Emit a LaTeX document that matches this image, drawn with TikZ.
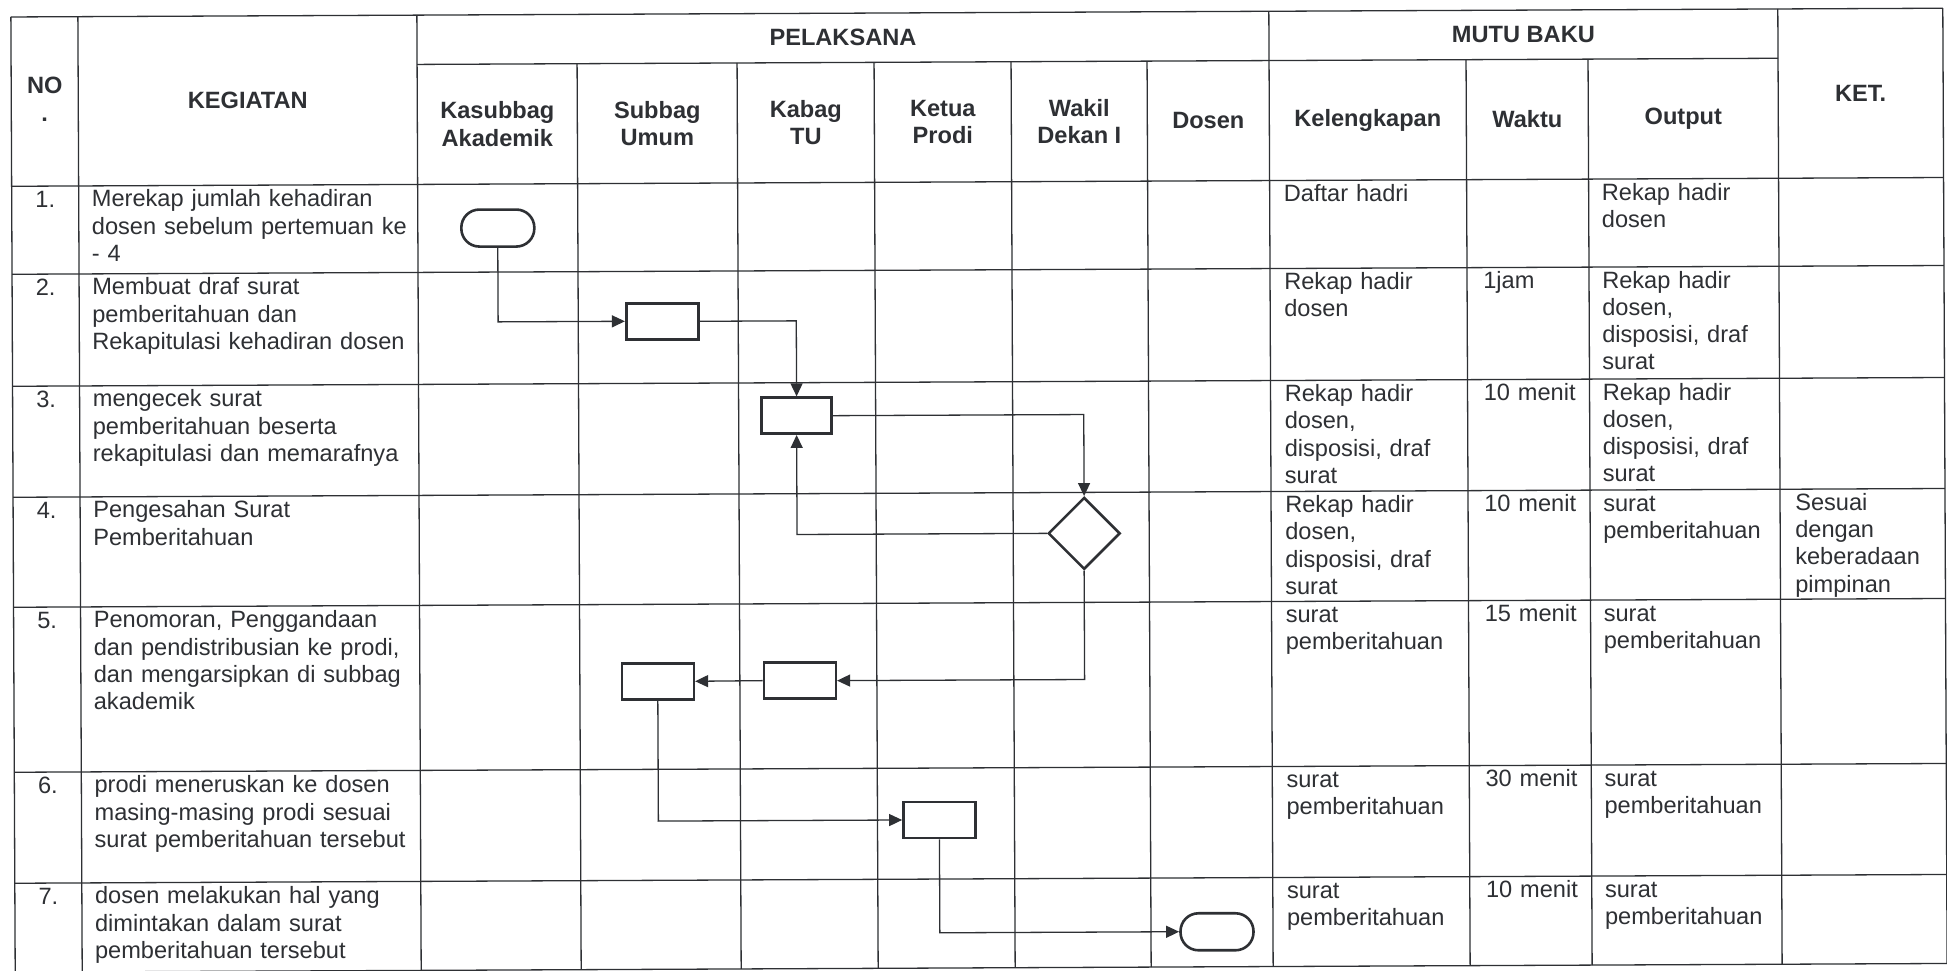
\documentclass[tikz,border=0pt]{standalone}
\usepackage{fontspec}
\setmainfont{Liberation Sans}
\usetikzlibrary{arrows.meta,shapes.geometric}

\definecolor{tinta}{HTML}{2E3034}

\tikzset{
  garis/.style={draw=tinta, line width=1.3pt},
  huruf/.style={font=\fontsize{23.6}{27.3}\selectfont, text=tinta, inner sep=0pt},
  judul/.style={huruf, font=\fontsize{23.6}{27.3}\selectfont\bfseries, align=center},
  isi/.style={huruf, anchor=base west, text width=#1, align=left},
  isi/.default=330pt,
  angka/.style={huruf, anchor=base},
  proses/.style={draw=tinta, line width=2.6pt, minimum width=72pt, minimum height=36pt, inner sep=0pt},
  terminal/.style={proses, rounded corners=18pt, minimum width=73pt, minimum height=37pt},
  putusan/.style={draw=tinta, line width=2.6pt, diamond, aspect=1, minimum size=72pt, inner sep=0pt},
  alur/.style={draw=tinta, line width=1.3pt, -{Triangle[length=13pt,width=12pt]}}
}

\begin{document}
\begin{tikzpicture}[x=1pt,y=-1pt]
\clip (0,0) rectangle (1947,970);
\fill[white] (0,0) rectangle (1947,970);
\begin{scope}[rotate around={0.26:(950,490)}]
% kerangka tabel
\foreach \y in {12.7,182,270,382,493,603,768,879,968}
  \draw[garis] (13,\y) -- (1945,\y);
\draw[garis] (419,62) -- (1780,62);
\foreach \x in {13,80,419,1271,1780,1945}
  \draw[garis] (\x,12.7) -- (\x,968);
\foreach \x in {579,739,876,1013,1149,1468,1590}
  \draw[garis] (\x,62) -- (\x,968);

% kepala tabel
\node[judul] (no) at (46.5,95) {NO\\.};
\node[judul] (kegiatan) at (249.5,97) {KEGIATAN};
\node[judul] (pelaksana) at (845,37) {PELAKSANA};
\node[judul] (mutu) at (1525.5,37) {MUTU BAKU};
\node[judul] (ket) at (1862.5,97) {KET.};
\foreach \x/\t [count=\i] in {499/{Kasubbag\\Akademik}, 659/{Subbag\\Umum}, 807.5/{Kabag\\TU},
    944.5/{Ketua\\Prodi}, 1081/{Wakil\\Dekan I}, 1210/Dosen, 1369.5/Kelengkapan, 1529/Waktu, 1685/Output}
  \node[judul] (kolom\i) at (\x,122) {\t};

% baris 1
\node[angka] (n1) at (46.5,203) {1.};
\node[isi] (k1) at (93,203) {Merekap jumlah kehadiran\\dosen sebelum pertemuan ke\\- 4};
\node[isi=180pt] (l1) at (1285,203) {Daftar hadri};
\node[isi=180pt] (o1) at (1603,203) {Rekap hadir\\dosen};
% baris 2
\node[angka] (n2) at (46.5,291) {2.};
\node[isi] (k2) at (93,291) {Membuat draf surat\\pemberitahuan dan\\Rekapitulasi kehadiran dosen};
\node[isi=180pt] (l2) at (1285,291) {Rekap hadir\\dosen};
\node[isi=110pt] (w2) at (1484,291) {1jam};
\node[isi=180pt] (o2) at (1603,291) {Rekap hadir\\dosen,\\disposisi, draf\\surat};
% baris 3
\node[angka] (n3) at (46.5,403) {3.};
\node[isi] (k3) at (93,403) {mengecek surat\\pemberitahuan beserta\\rekapitulasi dan memarafnya};
\node[isi=180pt] (l3) at (1285,403) {Rekap hadir\\dosen,\\disposisi, draf\\surat};
\node[isi=110pt] (w3) at (1484,403) {10 menit};
\node[isi=180pt] (o3) at (1603,403) {Rekap hadir\\dosen,\\disposisi, draf\\surat};
% baris 4
\node[angka] (n4) at (46.5,514) {4.};
\node[isi] (k4) at (93,514) {Pengesahan Surat\\Pemberitahuan};
\node[isi=180pt] (l4) at (1285,514) {Rekap hadir\\dosen,\\disposisi, draf\\surat};
\node[isi=110pt] (w4) at (1484,514) {10 menit};
\node[isi=180pt] (o4) at (1603,514) {surat\\pemberitahuan};
\node[isi=145pt] (t4) at (1795,514) {Sesuai\\dengan\\keberadaan\\pimpinan};
% baris 5
\node[angka] (n5) at (46.5,624) {5.};
\node[isi] (k5) at (93,624) {Penomoran, Penggandaan\\dan pendistribusian ke prodi,\\dan mengarsipkan di subbag\\akademik};
\node[isi=180pt] (l5) at (1285,624) {surat\\pemberitahuan};
\node[isi=110pt] (w5) at (1484,624) {15 menit};
\node[isi=180pt] (o5) at (1603,624) {surat\\pemberitahuan};
% baris 6
\node[angka] (n6) at (46.5,789) {6.};
\node[isi] (k6) at (93,789) {prodi meneruskan ke dosen\\masing-masing prodi sesuai\\surat pemberitahuan tersebut};
\node[isi=180pt] (l6) at (1285,789) {surat\\pemberitahuan};
\node[isi=110pt] (w6) at (1484,789) {30 menit};
\node[isi=180pt] (o6) at (1603,789) {surat\\pemberitahuan};
% baris 7
\node[angka] (n7) at (46.5,900) {7.};
\node[isi] (k7) at (93,900) {dosen melakukan hal yang\\dimintakan dalam surat\\pemberitahuan tersebut};
\node[isi=180pt] (l7) at (1285,900) {surat\\pemberitahuan};
\node[isi=110pt] (w7) at (1484,900) {10 menit};
\node[isi=180pt] (o7) at (1603,900) {surat\\pemberitahuan};

% bagan alir
\node[terminal] (mulai) at (499,226) {};
\node[proses] (draf) at (663,320) {};
\node[proses, minimum width=70pt] (cek) at (797,415) {};
\node[putusan] (sah) at (1084,534) {};
\node[proses] (gandakan) at (799,680) {};
\node[proses] (arsip) at (657,680) {};
\node[proses] (prodi) at (938,820) {};
\node[terminal] (selesai) at (1215,933) {};

\draw[alur] (mulai.south) |- (draf.west);
\draw[alur] (draf.east) -| (cek.north);
\draw[alur] (cek.east) -| (sah.north);
\draw[alur] (sah.west) -| (cek.south);
\draw[alur] (sah.south) |- (gandakan.east);
\draw[alur] (gandakan.west) -- (arsip.east);
\draw[alur] (arsip.south) |- (prodi.west);
\draw[alur] (prodi.south) |- (selesai.west);
\end{scope}
\end{tikzpicture}
\end{document}
